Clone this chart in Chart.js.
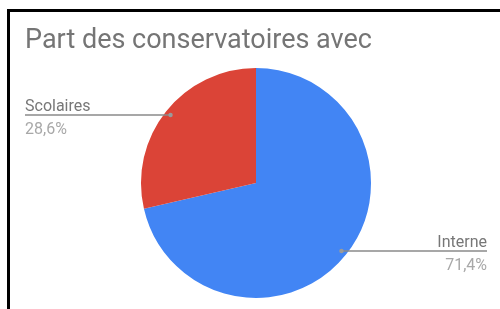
<!DOCTYPE html>
<html>
<head>
<meta charset="utf-8">
<script src="https://cdn.jsdelivr.net/npm/chart.js@4/dist/chart.umd.min.js"></script>
<style>
  html, body { margin: 0; padding: 0; background: #fff; }
  #wrap { position: relative; width: 500px; height: 309px; overflow: hidden; }
  #frame { position: absolute; left: 7px; top: 9px; width: 500px; height: 320px;
           border-top: 3px solid #000; border-left: 3px solid #000; }
  #c { position: absolute; left: 0; top: 0; }
</style>
</head>
<body>
<div id="wrap">
  <div id="frame"></div>
  <canvas id="c" width="500" height="309"></canvas>
</div>
<script>
// données
var labels = ['Interne', 'Scolaires'];
var valeurs = [71.4, 28.6];
var couleurs = ['#4285f4', '#db4437'];
var titre = 'Part des conservatoires avec';

// étiquettes avec ligne de rappel
var etiquettes = {
  id: 'etiquettes',
  afterDatasetsDraw: function(chart) {
    var ctx = chart.ctx;
    var meta = chart.getDatasetMeta(0);
    var total = valeurs.reduce(function(a, b) { return a + b; }, 0);
    meta.data.forEach(function(arc, i) {
      var mid = (arc.startAngle + arc.endAngle) / 2;
      var r = arc.outerRadius * 0.95;
      var px = arc.x + Math.cos(mid) * r;
      var py = arc.y + Math.sin(mid) * r;
      var gauche = Math.cos(mid) < 0;
      var bout = gauche ? 25 : 487;
      ctx.save();
      ctx.strokeStyle = '#8a8a8a';
      ctx.lineWidth = 1.5;
      ctx.beginPath();
      ctx.moveTo(px, py);
      ctx.lineTo(bout, py);
      ctx.stroke();
      ctx.fillStyle = '#9a9a9a';
      ctx.beginPath();
      ctx.arc(px, py, 2.2, 0, Math.PI * 2);
      ctx.fill();
      ctx.textAlign = gauche ? 'left' : 'right';
      ctx.textBaseline = 'alphabetic';
      ctx.font = '16px Roboto';
      ctx.fillStyle = '#777777';
      ctx.fillText(labels[i], bout, py - 4);
      ctx.fillStyle = '#a8a8a8';
      var pct = (valeurs[i] / total * 100).toFixed(1).replace('.', ',') + '%';
      ctx.fillText(pct, bout, py + 19);
      ctx.restore();
    });
  }
};

var ctx = document.getElementById('c').getContext('2d');
var graphique = new Chart(ctx, {
  type: 'pie',
  data: {
    labels: labels,
    datasets: [{
      data: valeurs,
      backgroundColor: couleurs,
      borderWidth: 0
    }]
  },
  options: {
    responsive: false,
    animation: false,
    rotation: 0,
    layout: { padding: { left: 25, top: 25, right: 13, bottom: 11 } },
    plugins: {
      legend: { display: false },
      tooltip: { enabled: false },
      title: {
        display: true,
        text: titre,
        align: 'start',
        color: '#757575',
        font: { family: 'Roboto', size: 27, weight: 'normal', lineHeight: 1.2 },
        padding: { top: 0, bottom: 10.6 }
      }
    }
  },
  plugins: [etiquettes]
});
</script>
</body>
</html>
